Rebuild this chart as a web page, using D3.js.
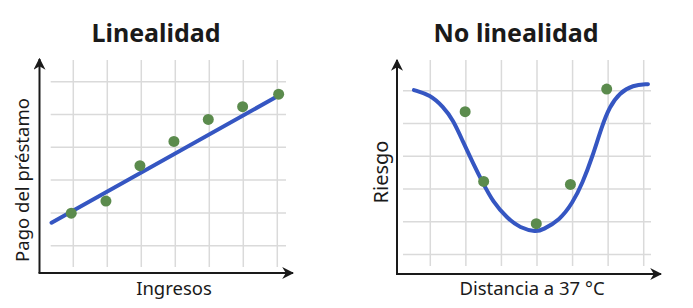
<!DOCTYPE html>
<html lang="es">
<head>
<meta charset="UTF-8">
<title>Linealidad / No linealidad</title>
<script src="https://d3js.org/d3.v7.min.js"></script>
<style>
  body { margin: 0; background: #fff; }
  .grid line { stroke: #dadada; stroke-width: 1.5px; }
  .axis { stroke: #1a1a1a; stroke-width: 2px; fill: none; }
  .title { font-family: "Noto Sans", sans-serif; font-weight: 700; font-size: 25px; fill: #1a1a1a; }
  .label { font-family: "Noto Sans", sans-serif; font-size: 18.5px; fill: #1a1a1a; }
</style>
</head>
<body>
<svg id="chart" width="693" height="308"></svg>
<script>
// ---- data ----
var gridX = [0, 1, 2, 3, 4, 5, 6];
var gridY = [0, 1, 2, 3, 4, 5];

// left: Linealidad
var ingresos = [-0.06, 0.96, 1.96, 2.96, 3.97, 4.98, 6.04];
var pago     = [0.99, 1.36, 2.44, 3.18, 3.85, 4.24, 4.62];
var fitX = [-0.64, 6.03];
var fitY = [0.70, 4.57];

// right: No linealidad
var distancia = [0.98, 1.5, 2.98, 3.94, 4.96];
var riesgo    = [4.36, 2.23, 0.94, 2.14, 5.05];
var curveX = [-0.46, 0, 0.36, 0.64, 0.92, 1.2, 1.48, 1.76, 2.16, 2.52, 2.98, 3.15, 3.64, 4.0, 4.28, 4.56, 4.82, 5.04, 5.32, 5.69, 6.12];
var curveY = [5.02, 4.87, 4.51, 4.11, 3.44, 2.79, 2.18, 1.61, 1.11, 0.81, 0.69, 0.75, 1.05, 1.57, 2.18, 2.99, 3.90, 4.51, 4.93, 5.17, 5.20];

var titles = ["Linealidad", "No linealidad"];
var xLabels = ["Ingresos", "Distancia a 37 °C"];
var yLabels = ["Pago del préstamo", "Riesgo"];

var blue = "#3556c2";
var green = "#5b8b4d";

var svg = d3.select("#chart");

var defs = svg.append("defs");
defs.append("marker")
  .attr("id", "arrow")
  .attr("viewBox", "0 0 10 10")
  .attr("refX", 9).attr("refY", 5)
  .attr("markerWidth", 6).attr("markerHeight", 6)
  .attr("markerUnits", "strokeWidth")
  .attr("orient", "auto")
  .append("path")
  .attr("d", "M0,0 L10,5 L0,10 L3,5 Z")
  .attr("fill", "#1a1a1a");

// panel layouts (pixels)
var panels = [
  { xr: [73.3, 277.3], yr: [245.7, 81.7], ax: 39.5, ay: 273, axEnd: 293, ayTop: 59,
    gTop: 60, gBottom: 267, gLeft: 50.7, gRight: 286,
    titleX: 156, xLabX: 174, yLabX: 28.5, yLabY: 180, yLabSize: 18.5 },
  { xr: [430.3, 643.7], yr: [254.5, 90.7], ax: 397, ay: 274, axEnd: 661, ayTop: 60,
    gTop: 60, gBottom: 266, gLeft: 403, gRight: 651,
    titleX: 516, xLabX: 532, yLabX: 388, yLabY: 172, yLabSize: 20 }
];

panels.forEach(function(p, k) {
  var x = d3.scaleLinear().domain([0, 6]).range(p.xr);
  var y = d3.scaleLinear().domain([0, 5]).range(p.yr);
  var g = svg.append("g");

  var grid = g.append("g").attr("class", "grid");
  grid.selectAll(".vx").data(gridX).enter().append("line")
    .attr("x1", function(d) { return x(d); }).attr("x2", function(d) { return x(d); })
    .attr("y1", p.gTop).attr("y2", p.gBottom);
  grid.selectAll(".hy").data(gridY).enter().append("line")
    .attr("y1", function(d) { return y(d); }).attr("y2", function(d) { return y(d); })
    .attr("x1", p.gLeft).attr("x2", p.gRight);

  // axes with arrows
  g.append("line").attr("class", "axis")
    .attr("x1", p.ax).attr("y1", p.ay).attr("x2", p.ax).attr("y2", p.ayTop)
    .attr("marker-end", "url(#arrow)");
  g.append("line").attr("class", "axis")
    .attr("x1", p.ax - 1).attr("y1", p.ay).attr("x2", p.axEnd).attr("y2", p.ay)
    .attr("marker-end", "url(#arrow)");

  var line = d3.line().x(function(d) { return x(d[0]); }).y(function(d) { return y(d[1]); });
  var pts, fit;
  if (k == 0) {
    fit = d3.zip(fitX, fitY);
    g.append("path").datum(fit).attr("d", line)
      .attr("fill", "none").attr("stroke", blue).attr("stroke-width", 4).attr("stroke-linecap", "round");
    pts = d3.zip(ingresos, pago);
  } else {
    fit = d3.zip(curveX, curveY);
    g.append("path").datum(fit).attr("d", line.curve(d3.curveBasis))
      .attr("fill", "none").attr("stroke", blue).attr("stroke-width", 4).attr("stroke-linecap", "round");
    pts = d3.zip(distancia, riesgo);
  }

  g.selectAll("circle").data(pts).enter().append("circle")
    .attr("cx", function(d) { return x(d[0]); })
    .attr("cy", function(d) { return y(d[1]); })
    .attr("r", 5.5)
    .attr("fill", green);

  g.append("text").attr("class", "title")
    .attr("x", p.titleX).attr("y", 42).attr("text-anchor", "middle")
    .text(titles[k]);
  g.append("text").attr("class", "label")
    .attr("x", p.xLabX).attr("y", 295).attr("text-anchor", "middle")
    .text(xLabels[k]);
  g.append("text").attr("class", "label")
    .attr("transform", "translate(" + p.yLabX + "," + p.yLabY + ") rotate(-90)")
    .attr("text-anchor", "middle")
    .style("font-size", p.yLabSize + "px")
    .text(yLabels[k]);
});
</script>
</body>
</html>
